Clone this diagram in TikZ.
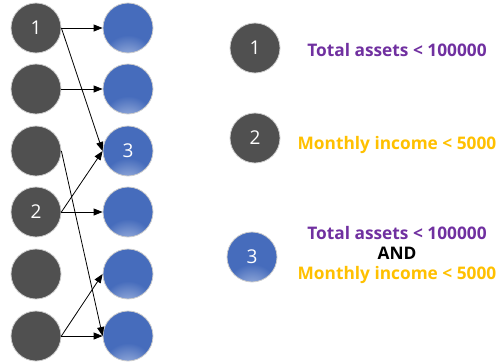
\documentclass[tikz,border=0pt]{standalone}
\usepackage{fontspec}
\setmainfont{Open Sans}
\usetikzlibrary{arrows.meta}
\definecolor{ballhi}{RGB}{200, 212, 238}
\definecolor{ballmid}{RGB}{70, 108, 188}
\definecolor{balllo}{RGB}{40, 70, 135}
\pgfdeclareradialshading{blueball}{\pgfpoint{0bp}{-42bp}}{color(0bp)=(ballhi); color(26bp)=(ballmid); color(52bp)=(ballmid); color(92bp)=(balllo); color(120bp)=(balllo)}
\begin{document}
\begin{tikzpicture}[x=1pt, y=-1pt]
	\definecolor{dotcolor}{RGB}{80, 80, 80}
	\definecolor{rimcolor}{RGB}{205, 205, 205}
	\definecolor{assetcolor}{RGB}{112, 48, 160}
	\definecolor{incomecolor}{RGB}{255, 192, 0}

	\tikzset{
		dot/.style={circle, minimum size=50pt, inner sep=0pt, draw=rimcolor, line width=0.8pt,
			text=white, font=\fontsize{19}{22}\selectfont},
		graydot/.style={dot, fill=dotcolor},
		bluedot/.style={dot, shading=blueball},
		link/.style={line width=0.8pt, -{Triangle[length=9pt, width=7pt]}},
		rule/.style={font=\bfseries\fontsize{17.3}{20}\selectfont, align=center}
	}

	\useasboundingbox (0, 0) rectangle (498, 362);

	% \drawrow#y#name#leftlabel#rightlabel
	\def\drawrow#1#2#3#4{
		\node[graydot] (l#2) at (36, #1) {#3};
		\node[bluedot] (r#2) at (128, #1) {#4};
	}

	% left and right columns
	\drawrow{28} {a} {1}{}
	\drawrow{89} {b} {}{}
	\drawrow{151}{c} {}{3}
	\drawrow{212}{d} {2}{}
	\drawrow{274}{e} {}{}
	\drawrow{336}{f} {}{}

	% links
	\draw[link] (la.east) -- (ra.west);
	\draw[link] (la.east) -- (rc.west);
	\draw[link] (lb.east) -- (rb.west);
	\draw[link] (lc.east) -- (rf.west);
	\draw[link] (ld.east) -- (rc.west);
	\draw[link] (ld.east) -- (rd.west);
	\draw[link] (lf.east) -- (re.west);
	\draw[link] (lf.east) -- (rf.west);

	% legend
	\node[graydot] (key1) at (255, 48) {1};
	\node[rule, text=assetcolor] (rule1) at (397, 50) {Total assets < 100000};

	\node[graydot] (key2) at (255, 138) {2};
	\node[rule, text=incomecolor] (rule2) at (397, 145) {Monthly income < 5000};

	\node[bluedot] (key3) at (252, 257) {3};
	\node[rule] (rule3) at (397, 255)
		{\textcolor{assetcolor}{Total assets < 100000}\\AND\\\textcolor{incomecolor}{Monthly income < 5000}};
\end{tikzpicture}
\end{document}
